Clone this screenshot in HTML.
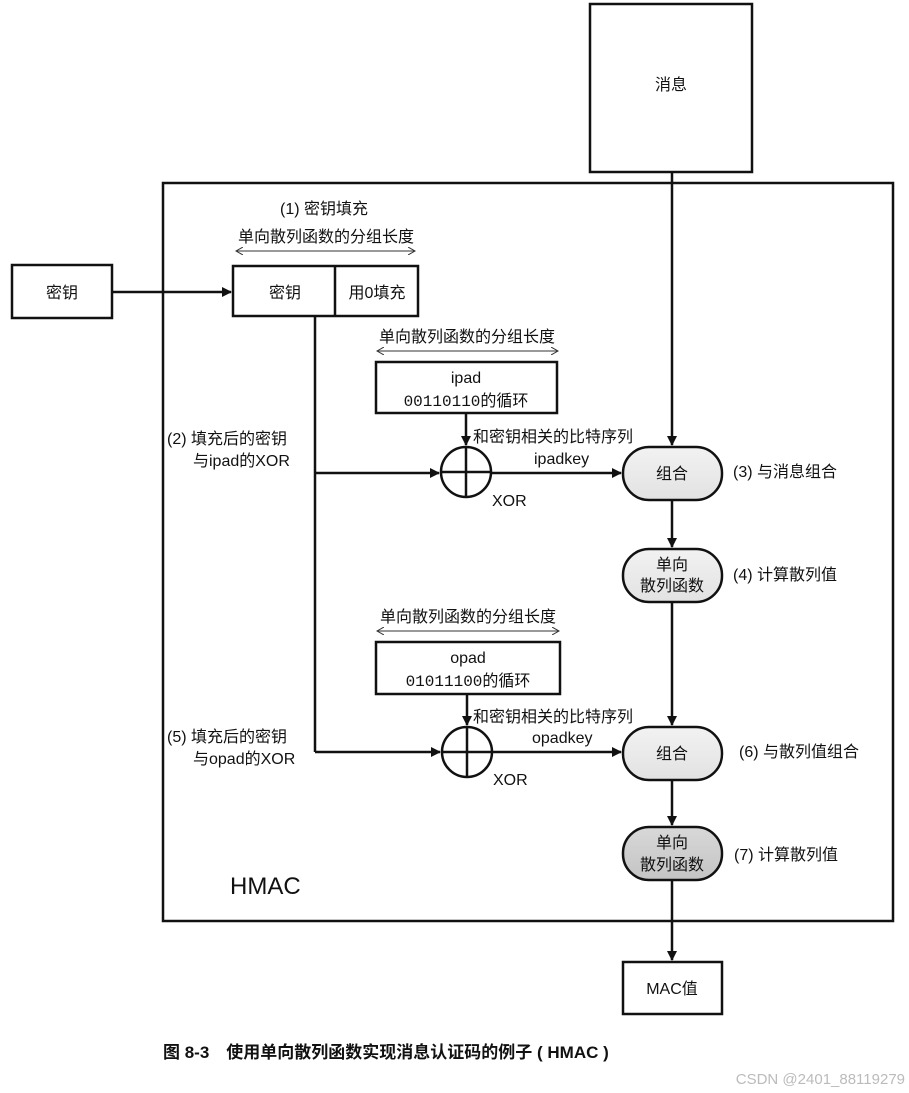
<!DOCTYPE html>
<html><head><meta charset="utf-8"><style>
html,body{margin:0;padding:0;background:#fff;}
svg{display:block;}
text{font-family:"Liberation Sans","Noto Sans CJK SC",sans-serif;fill:#111;}
.m{font-family:"Liberation Mono","Noto Sans CJK SC",monospace;}
</style></head><body>
<svg width="909" height="1093" viewBox="0 0 909 1093" xmlns="http://www.w3.org/2000/svg">
<defs>
<marker id="a" markerWidth="10" markerHeight="10" refX="9" refY="5" orient="auto" markerUnits="userSpaceOnUse"><path d="M0,0 L10,5 L0,10 z" fill="#111"/></marker>
<marker id="s" markerWidth="8" markerHeight="8" refX="7" refY="4" orient="auto-start-reverse" markerUnits="userSpaceOnUse"><path d="M0,0 L7,4 L0,8" fill="none" stroke="#333" stroke-width="1"/></marker>
<linearGradient id="g1" x1="0" y1="0" x2="0" y2="1"><stop offset="0" stop-color="#f2f2f2"/><stop offset="1" stop-color="#e2e2e2"/></linearGradient>
<linearGradient id="g2" x1="0" y1="0" x2="0" y2="1"><stop offset="0" stop-color="#d8d8d8"/><stop offset="1" stop-color="#c4c4c4"/></linearGradient>
</defs>
<g stroke="#111" stroke-width="2.5" fill="none">
<rect x="590" y="4" width="162" height="168" fill="#fff"/>
<rect x="163" y="183" width="730" height="738"/>
<rect x="12" y="265" width="100" height="53" fill="#fff"/>
<rect x="233" y="266" width="185" height="50" fill="#fff"/>
<line x1="335" y1="266" x2="335" y2="316"/>
<rect x="376" y="362" width="181" height="51" fill="#fff"/>
<rect x="376" y="642" width="184" height="52" fill="#fff"/>
<circle cx="466" cy="472" r="25"/><line x1="466" y1="447" x2="466" y2="497"/><line x1="441" y1="472" x2="491" y2="472"/>
<circle cx="467" cy="752" r="25"/><line x1="467" y1="727" x2="467" y2="777"/><line x1="442" y1="752" x2="492" y2="752"/>
<rect x="623" y="447" width="99" height="53" rx="26" fill="url(#g1)"/>
<rect x="623" y="549" width="99" height="53" rx="26" fill="url(#g1)"/>
<rect x="623" y="727" width="99" height="53" rx="26" fill="url(#g1)"/>
<rect x="623" y="827" width="99" height="53" rx="26" fill="url(#g2)"/>
<rect x="623" y="962" width="99" height="52" fill="#fff"/>
<!-- connectors -->
<line x1="112" y1="292" x2="231" y2="292" marker-end="url(#a)"/>
<line x1="315" y1="316" x2="315" y2="752"/>
<line x1="315" y1="473" x2="439" y2="473" marker-end="url(#a)"/>
<line x1="315" y1="752" x2="440" y2="752" marker-end="url(#a)"/>
<line x1="466" y1="413" x2="466" y2="445" marker-end="url(#a)"/>
<line x1="467" y1="694" x2="467" y2="725" marker-end="url(#a)"/>
<line x1="491" y1="473" x2="621" y2="473" marker-end="url(#a)"/>
<line x1="492" y1="752" x2="621" y2="752" marker-end="url(#a)"/>
<line x1="672" y1="172" x2="672" y2="445" marker-end="url(#a)"/>
<line x1="672" y1="500" x2="672" y2="547" marker-end="url(#a)"/>
<line x1="672" y1="602" x2="672" y2="725" marker-end="url(#a)"/>
<line x1="672" y1="780" x2="672" y2="825" marker-end="url(#a)"/>
<line x1="672" y1="880" x2="672" y2="960" marker-end="url(#a)"/>
</g>
<g stroke="#333" stroke-width="1" fill="none">
<line x1="236" y1="251" x2="415" y2="251" marker-start="url(#s)" marker-end="url(#s)"/>
<line x1="377" y1="351" x2="558" y2="351" marker-start="url(#s)" marker-end="url(#s)"/>
<line x1="377" y1="631" x2="559" y2="631" marker-start="url(#s)" marker-end="url(#s)"/>
</g>
<g font-size="16">
<text x="671" y="90" text-anchor="middle">消息</text>
<text x="62" y="298" text-anchor="middle">密钥</text>
<text x="285" y="298" text-anchor="middle">密钥</text>
<text x="377" y="298" text-anchor="middle">用0填充</text>
<text x="324" y="214" text-anchor="middle">(1) 密钥填充</text>
<text x="326" y="242" text-anchor="middle">单向散列函数的分组长度</text>
<text x="467" y="342" text-anchor="middle">单向散列函数的分组长度</text>
<text x="468" y="622" text-anchor="middle">单向散列函数的分组长度</text>
<text x="466" y="383" text-anchor="middle">ipad</text>
<text x="466" y="406" text-anchor="middle" class="m">00110110的循环</text>
<text x="468" y="663" text-anchor="middle">opad</text>
<text x="468" y="686" text-anchor="middle" class="m">01011100的循环</text>
<text x="473" y="442">和密钥相关的比特序列</text>
<text x="473" y="722">和密钥相关的比特序列</text>
<text x="534" y="464">ipadkey</text>
<text x="532" y="743">opadkey</text>
<text x="492" y="506">XOR</text>
<text x="493" y="785">XOR</text>
<text x="167" y="444">(2) 填充后的密钥</text>
<text x="193" y="466">与ipad的XOR</text>
<text x="167" y="742">(5) 填充后的密钥</text>
<text x="193" y="764">与opad的XOR</text>
<text x="672" y="479" text-anchor="middle">组合</text>
<text x="672" y="570" text-anchor="middle">单向</text>
<text x="672" y="591" text-anchor="middle">散列函数</text>
<text x="672" y="759" text-anchor="middle">组合</text>
<text x="672" y="848" text-anchor="middle">单向</text>
<text x="672" y="870" text-anchor="middle">散列函数</text>
<text x="672" y="994" text-anchor="middle">MAC值</text>
<text x="733" y="477">(3) 与消息组合</text>
<text x="733" y="580">(4) 计算散列值</text>
<text x="739" y="757">(6) 与散列值组合</text>
<text x="734" y="860">(7) 计算散列值</text>
</g>
<text x="230" y="894" font-size="24">HMAC</text>
<text x="163" y="1058" font-size="17" font-weight="bold">图 8-3　使用单向散列函数实现消息认证码的例子 ( HMAC )</text>
<text x="905" y="1084" font-size="15" text-anchor="end" style="fill:#bbb">CSDN @2401_88119279</text>
</svg>
</body></html>
